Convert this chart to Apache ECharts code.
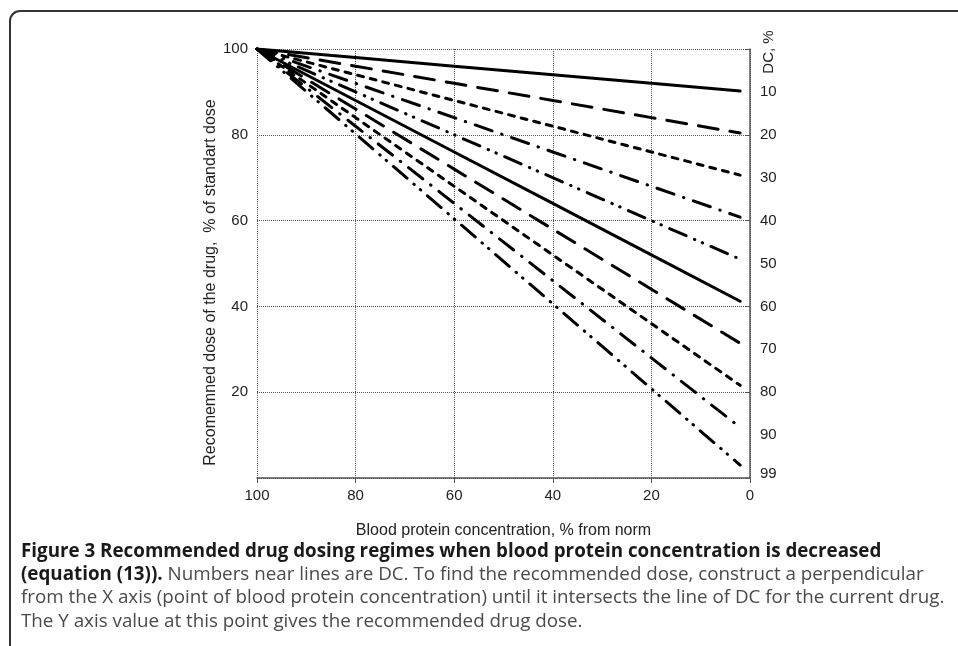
<!DOCTYPE html>
<html>
<head>
<meta charset="utf-8">
<title>Figure 3</title>
<script src="https://cdn.jsdelivr.net/npm/echarts@6/dist/echarts.min.js"></script>
<style>
  html, body { margin: 0; padding: 0; background: #fff; }
  #wrap { position: relative; width: 958px; height: 646px; overflow: hidden; }
  #frame {
    position: absolute; left: 9px; top: 10px; width: 1000px; height: 700px;
    border-left: 2px solid #333; border-top: 2px solid #333;
    border-top-left-radius: 11px;
  }
  #chart { position: absolute; left: 0; top: 0; width: 958px; height: 646px; }
  .cap {
    position: absolute; left: 21px; white-space: nowrap;
    font-family: 'Open Sans', sans-serif; font-size: 18.8px; color: #4a4a4a;
  }
  .cap b { color: #1a1a1a; font-weight: 700; }
</style>
</head>
<body>
<div id="wrap">
  <div id="frame"></div>
  <div id="chart"></div>
  <div class="cap" style="top:537px"><b>Figure 3 Recommended drug dosing regimes when blood protein concentration is decreased</b></div>
  <div class="cap" style="top:560px"><b>(equation (13)).</b> Numbers near lines are DC. To find the recommended dose, construct a perpendicular</div>
  <div class="cap" style="top:583px">from the X axis (point of blood protein concentration) until it intersects the line of DC for the current drug.</div>
  <div class="cap" style="top:607px">The Y axis value at this point gives the recommended drug dose.</div>
</div>
<script>
// blood protein concentration, % from norm (x)
var proteinConc = [100, 80, 60, 40, 20, 2]

// recommended dose, % of standard dose, one array per DC line
var dose10 = [100, 98, 96, 94, 92, 90.2]
var dose20 = [100, 96, 92, 88, 84, 80.4]
var dose30 = [100, 94, 88, 82, 76, 70.6]
var dose40 = [100, 92, 84, 76, 68, 60.8]
var dose50 = [100, 90, 80, 70, 60, 51]
var dose60 = [100, 88, 76, 64, 52, 41.2]
var dose70 = [100, 86, 72, 58, 44, 31.4]
var dose80 = [100, 84, 68, 52, 36, 21.6]
var dose90 = [100, 82, 64, 46, 28, 11.8]
var dose99 = [100, 80.2, 60.4, 40.6, 20.8, 3]

// DC labels on the right side and where they sit on the dose scale
var dcLabels = ['10', '20', '30', '40', '50', '60', '70', '80', '90', '99']
var dcLabelPos = [90, 80, 70, 60, 50, 40, 30, 20, 10, 1]

// dash patterns
var SOLID = 'solid'
var LONG_DASH = [20, 12]
var SHORT_DASH = [6, 7]
var DASH_DOT = [18, 10, 0.5, 10]
var DASH_DOT_DOT = [18, 9, 0.5, 8, 0.5, 9]

var lines = [
  { name: '10', data: dose10, type: SOLID },
  { name: '20', data: dose20, type: LONG_DASH },
  { name: '30', data: dose30, type: SHORT_DASH },
  { name: '40', data: dose40, type: DASH_DOT },
  { name: '50', data: dose50, type: DASH_DOT_DOT },
  { name: '60', data: dose60, type: SOLID },
  { name: '70', data: dose70, type: LONG_DASH },
  { name: '80', data: dose80, type: SHORT_DASH },
  { name: '90', data: dose90, type: DASH_DOT },
  { name: '99', data: dose99, type: DASH_DOT_DOT }
]

var font = 'Liberation Sans, Arial, sans-serif'
var gridLine = { show: true, lineStyle: { color: '#555', width: 1, type: [1, 1] } }

var series = lines.map(function (l) {
  return {
    name: l.name,
    type: 'line',
    showSymbol: false,
    silent: true,
    data: proteinConc.map(function (p, i) { return [p, l.data[i]] }),
    lineStyle: { color: '#000', width: 3, type: l.type, cap: 'round' },
    z: 3
  }
})

var chart = echarts.init(document.getElementById('chart'), null, { renderer: 'canvas' })
chart.setOption({
  animation: false,
  backgroundColor: 'transparent',
  grid: { left: 257, right: 208, top: 49, bottom: 168, containLabel: false },
  xAxis: {
    type: 'value',
    min: 0,
    max: 100,
    interval: 20,
    inverse: true,
    name: 'Blood protein concentration, % from norm',
    nameLocation: 'middle',
    nameGap: 45,
    nameMoveOverlap: false,
    nameTextStyle: { fontFamily: font, fontSize: 16, color: '#222' },
    axisLine: { show: true, onZero: false, lineStyle: { color: '#555', width: 1.5 } },
    axisTick: { show: true, length: 5, lineStyle: { color: '#555' } },
    axisLabel: { margin: 10, fontFamily: font, fontSize: 15, color: '#222' },
    splitLine: gridLine
  },
  yAxis: [{
    type: 'value',
    min: 0,
    max: 100,
    interval: 20,
    name: 'Recomemned dose of the drug,  % of standart dose',
    nameLocation: 'middle',
    nameRotate: 90,
    nameGap: 38,
    nameMoveOverlap: false,
    nameTextStyle: { fontFamily: font, fontSize: 16, color: '#222', padding: [0, 38, 0, 0] },
    axisLine: { show: true, lineStyle: { color: '#555', width: 1.5 } },
    axisTick: { show: true, length: 4, lineStyle: { color: '#555' } },
    axisLabel: {
      margin: 9,
      fontFamily: font,
      fontSize: 15,
      color: '#222',
      formatter: function (v) { return v === 0 ? '' : String(v) }
    },
    splitLine: gridLine
  }, {
    type: 'value',
    min: 0,
    max: 100,
    position: 'right',
    axisLine: { show: false },
    axisTick: { show: false },
    splitLine: { show: false },
    axisLabel: {
      margin: 10,
      fontFamily: font,
      fontSize: 15,
      color: '#222',
      customValues: dcLabelPos,
      formatter: function (v) {
        var i = dcLabelPos.indexOf(v)
        return i >= 0 ? dcLabels[i] : ''
      }
    }
  }],
  graphic: [{
    type: 'text',
    x: 769,
    y: 52,
    rotation: Math.PI / 2,
    style: {
      text: 'DC, %',
      font: '15px ' + font,
      fill: '#222',
      align: 'center',
      verticalAlign: 'middle'
    }
  }],
  series: series
})
</script>
</body>
</html>
